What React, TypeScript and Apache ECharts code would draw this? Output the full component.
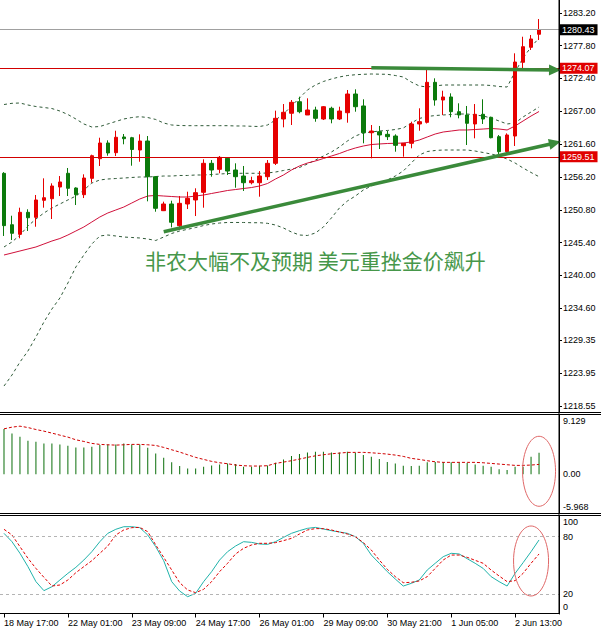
import React, { useEffect, useRef } from 'react';
import * as echarts from 'echarts';

// ---- tick labels ----
const xLabels = ['18 May 17:00', '22 May 01:00', '23 May 09:00', '24 May 17:00', '26 May 01:00', '29 May 09:00', '30 May 21:00', '1 Jun 05:00', '2 Jun 13:00'];
const yTicks = [1283.2, 1277.8, 1272.4, 1267.0, 1261.6, 1256.2, 1250.8, 1245.4, 1240.0, 1234.6, 1229.35, 1223.95, 1218.55];
const macdTicks = [9.129, 0, -5.968];
const stochTicks = [100, 80, 20, 0];
const stochLevels = [80, 20];

// ---- candles (H4) ----
const open = [1256.8, 1248.35, 1246.77, 1250.39, 1249.57, 1252.37, 1252.63, 1254.55, 1256.81, 1254.39,
  1253.29, 1255.98, 1259.21, 1261.79, 1260.2, 1262.78, 1262.66, 1260.64, 1262.12, 1256.25,
  1250.66, 1251.76, 1248.19, 1251.76, 1252.42, 1253.68, 1258.45, 1257.46, 1259.27, 1257.35,
  1256.36, 1255.26, 1255.26, 1256.25, 1258.45, 1265.74, 1266.68, 1268.58, 1266.4, 1267.22,
  1265.74, 1267.5, 1265.74, 1266.77, 1269.85, 1267.88, 1263.48, 1263.65, 1263.22, 1262.94,
  1261.35, 1261.74, 1264.92, 1265.19, 1271.77, 1268.86, 1269.36, 1266.94, 1266.4, 1264.92,
  1266.51, 1266.02, 1262.83, 1260.36, 1262.94, 1275.06, 1277.53, 1279.67];
const close = [1248.2, 1246.94, 1250.39, 1249.5, 1252.42, 1252.79, 1254.72, 1255.38, 1254.34, 1253.29,
  1256.03, 1259.7, 1261.79, 1260.15, 1262.73, 1262.5, 1260.72, 1262.12, 1256.25, 1251.05,
  1251.76, 1248.75, 1251.87, 1252.69, 1253.62, 1258.45, 1257.35, 1259.43, 1257.18, 1256.25,
  1255.26, 1255.6, 1256.36, 1258.45, 1265.85, 1266.84, 1268.48, 1266.94, 1267.22, 1265.85,
  1267.76, 1265.74, 1267.05, 1269.85, 1267.76, 1263.48, 1263.76, 1263.11, 1262.83, 1261.41,
  1261.74, 1264.92, 1265.3, 1271.77, 1268.86, 1269.36, 1266.94, 1266.4, 1265.03, 1266.51,
  1265.74, 1262.66, 1260.36, 1263.11, 1275.11, 1277.63, 1278.9, 1280.43];
const low = [1246.5, 1245.84, 1246.12, 1247.32, 1248.02, 1251.15, 1249.29, 1253.07, 1253.07, 1251.59,
  1252.74, 1255.26, 1258.01, 1259.7, 1259.65, 1261.58, 1258.06, 1258.71, 1252.2, 1250.49,
  1250.6, 1247.92, 1247.48, 1250.93, 1249.78, 1251.15, 1256.25, 1256.81, 1256.53, 1254.44,
  1253.9, 1254.99, 1252.96, 1255.7, 1258.17, 1264.37, 1264.75, 1266.68, 1266.4, 1265.29,
  1265.57, 1265.03, 1265.57, 1265.13, 1266.94, 1261.74, 1259.27, 1260.8, 1262.28, 1260.36,
  1259.54, 1260.92, 1263.81, 1265.0, 1267.93, 1266.4, 1266.02, 1265.85, 1261.46, 1262.56,
  1264.92, 1262.56, 1259.54, 1260.1, 1261.3, 1274.08, 1277.09, 1278.73];
const high = [1257.0, 1249.83, 1251.15, 1250.89, 1253.24, 1255.98, 1255.16, 1256.36, 1257.68, 1254.5,
  1256.64, 1259.87, 1262.66, 1262.23, 1263.81, 1263.27, 1262.8, 1263.22, 1262.94, 1256.36,
  1252.14, 1252.3, 1253.07, 1253.78, 1254.34, 1259.11, 1258.99, 1259.65, 1259.37, 1258.45,
  1258.01, 1256.25, 1257.18, 1258.99, 1267.11, 1268.2, 1268.86, 1269.41, 1269.14, 1267.76,
  1267.87, 1267.76, 1267.76, 1270.51, 1270.62, 1268.98, 1264.75, 1264.59, 1263.76, 1263.22,
  1261.8, 1265.3, 1267.5, 1274.08, 1272.43, 1270.39, 1269.96, 1268.32, 1267.88, 1268.2,
  1268.98, 1266.12, 1263.1, 1263.38, 1276.54, 1279.27, 1279.55, 1282.18];

// ---- Bollinger bands and moving average ----
const bbUpper = [1268.12, 1268.32, 1268.37, 1268.04, 1267.79, 1267.63, 1267.46, 1267.05, 1266.48, 1265.74,
  1264.92, 1264.42, 1264.5, 1264.92, 1265.33, 1265.74, 1265.98, 1266.12, 1265.98, 1265.66,
  1265.08, 1264.75, 1264.67, 1264.64, 1264.64, 1264.64, 1264.64, 1264.64, 1264.64, 1264.59,
  1264.59, 1264.54, 1264.5, 1264.75, 1265.57, 1266.56, 1267.88, 1269.19, 1270.51, 1271.33,
  1271.91, 1272.32, 1272.65, 1272.89, 1273.02, 1273.09, 1273.14, 1273.11, 1273.09, 1272.89,
  1272.65, 1271.82, 1271.17, 1271.0, 1271.17, 1271.33, 1271.33, 1271.33, 1271.33, 1271.33,
  1271.33, 1271.25, 1271.08, 1271.0, 1273.47, 1275.77, 1277.58, 1279.06];
const bbMid = [1244.69, 1245.51, 1246.66, 1248.14, 1249.29, 1250.28, 1251.1, 1251.76, 1252.42, 1253.07,
  1254.06, 1255.21, 1255.71, 1255.87, 1255.95, 1256.03, 1256.12, 1256.2, 1256.2, 1256.28,
  1256.36, 1256.36, 1256.45, 1256.45, 1256.53, 1256.53, 1256.61, 1256.69, 1256.77, 1256.81,
  1256.81, 1256.81, 1256.81, 1256.86, 1257.02, 1257.27, 1257.51, 1257.76, 1258.34, 1258.99,
  1259.65, 1260.31, 1261.13, 1262.12, 1262.94, 1263.44, 1263.6, 1263.76, 1263.85, 1264.01,
  1264.26, 1265.08, 1265.82, 1266.15, 1266.31, 1266.4, 1266.48, 1266.56, 1266.56, 1266.4,
  1266.23, 1265.9, 1265.41, 1264.92, 1265.08, 1266.07, 1266.89, 1267.71];
const bbLower = [1221.82, 1223.63, 1225.77, 1227.58, 1229.88, 1232.35, 1234.49, 1236.3, 1238.76, 1241.4,
  1243.37, 1245.18, 1246.5, 1246.66, 1246.5, 1246.33, 1246.25, 1246.17, 1246.0, 1245.76,
  1246.33, 1246.91, 1247.32, 1247.6, 1247.89, 1248.22, 1248.47, 1248.63, 1248.72, 1248.72,
  1248.72, 1248.68, 1248.68, 1248.58, 1248.3, 1247.81, 1247.15, 1246.66, 1246.58, 1246.99,
  1247.98, 1249.46, 1251.1, 1252.25, 1253.07, 1254.06, 1254.72, 1255.21, 1255.71, 1256.36,
  1257.19, 1258.5, 1259.82, 1260.39, 1260.56, 1260.64, 1260.64, 1260.64, 1260.64, 1260.47,
  1260.23, 1259.98, 1259.65, 1259.16, 1258.5, 1257.68, 1256.94, 1256.25];
const maRed = [1243.37, 1243.7, 1244.03, 1244.36, 1244.69, 1245.18, 1245.67, 1246.08, 1246.66, 1247.32,
  1247.98, 1248.8, 1249.62, 1250.28, 1250.77, 1251.26, 1251.92, 1252.58, 1253.07, 1253.16,
  1253.07, 1252.99, 1252.91, 1252.91, 1253.07, 1253.24, 1253.49, 1253.73, 1253.98, 1254.14,
  1254.31, 1254.47, 1254.72, 1255.13, 1255.87, 1256.53, 1257.35, 1258.01, 1258.5, 1258.83,
  1259.24, 1259.65, 1260.06, 1260.56, 1260.97, 1261.3, 1261.54, 1261.63, 1261.71, 1261.74,
  1261.79, 1261.96, 1262.28, 1262.78, 1263.27, 1263.6, 1263.76, 1263.93, 1263.93, 1264.01,
  1264.09, 1264.18, 1264.09, 1263.93, 1264.59, 1265.41, 1266.23, 1266.97];

// ---- MACD ----
const macdHist = [6.9, 6.23, 5.73, 5.12, 4.97, 4.72, 4.72, 4.57, 4.36, 4.11,
  4.11, 4.2, 4.46, 4.57, 4.57, 4.72, 4.57, 4.57, 4.05, 3.2,
  2.53, 1.83, 1.27, 0.91, 0.91, 1.17, 1.37, 1.52, 1.67, 1.57,
  1.17, 1.17, 1.32, 1.37, 1.77, 2.28, 2.79, 3.09, 3.35, 3.44,
  3.44, 3.35, 3.35, 3.44, 3.29, 2.94, 2.68, 2.33, 1.87, 1.67,
  1.32, 1.27, 1.32, 1.83, 1.87, 1.87, 1.83, 1.83, 1.72, 1.52,
  1.32, 1.17, 0.77, 0.67, 1.17, 1.17, 2.7, 3.31];
const macdSignal = [6.94, 7.2, 7.35, 7.14, 6.84, 6.59, 6.29, 5.98, 5.68, 5.27,
  5.02, 4.72, 4.57, 4.51, 4.46, 4.51, 4.57, 4.57, 4.51, 4.41,
  4.11, 3.75, 3.4, 2.99, 2.59, 2.28, 1.98, 1.77, 1.62, 1.42,
  1.32, 1.27, 1.27, 1.32, 1.67, 1.87, 2.08, 2.33, 2.59, 2.83,
  2.99, 3.14, 3.24, 3.35, 3.35, 3.35, 3.29, 3.2, 3.09, 2.94,
  2.74, 2.44, 2.28, 2.08, 1.92, 1.83, 1.83, 1.83, 1.83, 1.83,
  1.77, 1.67, 1.57, 1.47, 1.37, 1.37, 1.42, 1.52];

// ---- Stochastic ----
const stochK = [83.5, 74.8, 62.7, 48.8, 33.2, 23.8, 27.9, 34.9, 41.8, 48.1,
  55.7, 64.4, 74.8, 83.5, 87.7, 90.4, 90.4, 89.4, 81.8, 69.6,
  55.0, 33.2, 23.4, 17.5, 21.0, 33.2, 43.6, 55.7, 64.4, 70.3,
  74.8, 74.1, 72.4, 72.0, 74.8, 79.3, 83.5, 86.3, 88.7, 89.7,
  88.0, 86.3, 84.9, 83.5, 80.0, 73.1, 60.9, 52.3, 43.6, 35.9,
  28.6, 31.4, 34.9, 45.3, 52.3, 59.2, 62.7, 62.0, 57.1, 52.3,
  47.0, 38.4, 33.2, 28.6, 41.8, 52.9, 64.4, 76.6];
const stochD = [87.7, 81.8, 69.6, 57.5, 47.0, 37.7, 28.6, 29.7, 34.9, 42.5,
  48.8, 55.0, 62.7, 70.3, 81.8, 87.0, 89.4, 89.7, 85.2, 71.4,
  58.5, 45.3, 32.1, 24.5, 21.7, 25.2, 33.2, 43.6, 52.3, 62.0,
  67.9, 71.4, 73.1, 73.1, 73.8, 75.9, 78.3, 82.8, 87.0, 88.4,
  88.4, 87.0, 84.9, 82.8, 80.0, 73.8, 66.1, 55.7, 46.0, 38.4,
  32.1, 32.5, 33.9, 38.4, 47.0, 55.7, 60.9, 60.9, 58.5, 55.4,
  52.3, 45.3, 39.1, 33.2, 34.2, 41.8, 52.3, 62.0];

// ---- levels and annotations (data coordinates) ----
const lastPrice = 1280.43;
const resistance = 1274.07;
const support = 1259.51;
const upperArrow = [[45.6, 1274.18], [68.7, 1273.8]];
const lowerArrow = [[20.46, 1247.2], [69.2, 1261.8]];
const noteText = '非农大幅不及预期 美元重挫金价飙升';
const noteAt = [38.75, 1242.55];
const macdCircleAt = [66.95, 0.47];
const stochCircleAt = [66.34, 54.7];

const SLOTS = 70;
const categories = Array.from({ length: SLOTS }, (_, i) => 'b' + i);

const FONT = 'Liberation Sans, Arial, sans-serif';
const RED = '#e60000';
const GREEN = '#0b7a0b';
const BAND = '#2f5a38';
const TREND = '#3a8a3a';

const showIdx = (i: number) => i % 8 === 0 && i / 8 < xLabels.length;

export default function App() {
  const ref = useRef<HTMLDivElement>(null);
  useEffect(() => {
    document.body.style.margin = '0';
    const chart = echarts.init(ref.current!, null, { renderer: 'svg' });
    const candle = open.map((o, i) => [o, close[i], low[i], high[i]]);
    const lineSeries = (data: number[], color: string, type: any, z = 2, xi = 0) => ({
      type: 'line', xAxisIndex: xi, yAxisIndex: xi, data, symbol: 'none', silent: true, z,
      lineStyle: { color, width: 1, type },
    });
    // one horizontal level per markLine, styled at markLine level
    const levelMark = (v: number, color: string, bg: string) => ({
      silent: true, animation: false, symbol: 'none', z: 4,
      lineStyle: { color, width: 1, type: 'solid' },
      label: {
        show: true, position: 'end', formatter: v.toFixed(2), color: '#fff', backgroundColor: bg,
        padding: [1, 3, 0, 2], fontSize: 9, fontFamily: FONT, distance: 1, lineHeight: 10,
      },
      data: [{ yAxis: v }],
    });
    const arrowMark = (pts: number[][]) => ({
      silent: true, animation: false, z: 5,
      symbol: ['none', 'triangle'], symbolSize: [11, 12],
      lineStyle: { color: TREND, width: 3.5, type: 'solid' },
      itemStyle: { color: TREND },
      label: { show: false },
      data: [[{ coord: pts[0] }, { coord: pts[1] }]],
    });
    const option: any = {
      animation: false,
      grid: [
        { left: -1, top: 0, width: 560, height: 412 },
        { left: -1, top: 414.5, width: 560, height: 99 },
        { left: -1, top: 515.5, width: 560, height: 98.5 },
      ],
      xAxis: [
        { type: 'category', gridIndex: 0, data: categories, boundaryGap: true, show: false },
        { type: 'category', gridIndex: 1, data: categories, boundaryGap: true, show: false },
        {
          type: 'category', gridIndex: 2, data: categories, boundaryGap: true,
          axisLine: { show: true, lineStyle: { color: '#000', width: 1 } },
          axisTick: { show: true, length: 4, alignWithLabel: true, interval: (i: number) => showIdx(i), lineStyle: { color: '#000' } },
          axisLabel: {
            interval: (i: number) => showIdx(i),
            formatter: (_v: string, i: number) => xLabels[i / 8] ?? '',
            align: 'left', fontSize: 9, fontFamily: FONT, color: '#000', margin: 4,
          },
          splitLine: { show: false },
        },
      ],
      yAxis: [
        {
          type: 'value', gridIndex: 0, position: 'right', min: 1217.55, max: 1285.31,
          axisLine: { show: true, lineStyle: { color: '#000' } },
          axisTick: { show: true, length: 3, customValues: yTicks, lineStyle: { color: '#000' } },
          axisLabel: { customValues: yTicks, formatter: (v: number) => v.toFixed(2), fontSize: 9, fontFamily: FONT, color: '#000', margin: 4 },
          splitLine: { show: false },
        },
        {
          type: 'value', gridIndex: 1, position: 'right', min: -5.968, max: 9.129,
          axisLine: { show: true, lineStyle: { color: '#000' } },
          axisTick: { show: false },
          axisLabel: {
            customValues: macdTicks, fontSize: 9, fontFamily: FONT, color: '#000', margin: 4,
            formatter: (v: number) => (v > 9 ? '{t|9.129}' : v < -5 ? '{b|-5.968}' : '0.00'),
            rich: { t: { padding: [13, 0, 0, 0], fontSize: 9, fontFamily: FONT }, b: { padding: [0, 0, 14, 0], fontSize: 9, fontFamily: FONT } },
          },
          splitLine: { show: false },
        },
        {
          type: 'value', gridIndex: 2, position: 'right', min: -0.52, max: 102.08,
          axisLine: { show: true, lineStyle: { color: '#000' } },
          axisTick: { show: false },
          axisLabel: {
            customValues: stochTicks, fontSize: 9, fontFamily: FONT, color: '#000', margin: 4,
            formatter: (v: number) => (v === 100 ? '{t|100}' : v === 0 ? '{b|0}' : String(v)),
            rich: { t: { padding: [9, 0, 0, 0], fontSize: 9, fontFamily: FONT }, b: { padding: [0, 0, 13, 0], fontSize: 9, fontFamily: FONT } },
          },
          splitLine: { show: false },
        },
      ],
      series: [
        { ...lineSeries(bbUpper, BAND, [3, 3]), markLine: levelMark(lastPrice, '#a0a0a0', '#000000') },
        { ...lineSeries(bbMid, BAND, [3, 3]), markLine: levelMark(resistance, '#d20000', '#e00000') },
        { ...lineSeries(bbLower, BAND, [3, 3]), markLine: levelMark(support, '#d20000', '#e00000') },
        { ...lineSeries(maRed, '#d0103a', 'solid'), markLine: arrowMark(lowerArrow) },
        {
          type: 'candlestick', xAxisIndex: 0, yAxisIndex: 0, data: candle, barWidth: 4, z: 3, silent: true,
          itemStyle: { color: RED, color0: GREEN, borderColor: RED, borderColor0: GREEN, borderWidth: 1 },
          markLine: arrowMark(upperArrow),
        },
        {
          type: 'bar', xAxisIndex: 1, yAxisIndex: 1, data: macdHist, barWidth: 1, silent: true,
          itemStyle: { color: '#0a6e0a' },
        },
        lineSeries(macdSignal, '#d00000', [3, 2], 3, 1),
        {
          ...lineSeries(stochK, '#20b2aa', 'solid', 3, 2),
          markLine: {
            silent: true, animation: false, symbol: 'none', label: { show: false },
            lineStyle: { color: '#b4b4b4', width: 1, type: [3, 3] },
            data: stochLevels.map((v) => ({ yAxis: v })),
          },
        },
        lineSeries(stochD, '#e00000', [3, 2], 3, 2),
      ],
    };
    chart.setOption(option);

    const px = (g: number, pt: number[]) => chart.convertToPixel({ xAxisIndex: g, yAxisIndex: g }, pt) as number[];
    const note = px(0, noteAt);
    const mc = px(1, macdCircleAt);
    const sc = px(2, stochCircleAt);
    const hline = (y: number, x2 = 601) => ({ type: 'line', silent: true, z: 50, shape: { x1: 0, y1: y, x2, y2: y }, style: { stroke: '#000', lineWidth: 1 } });
    chart.setOption({
      graphic: [
        hline(412.5), hline(414.5), hline(513.5), hline(515.5),
        { type: 'line', silent: true, z: 50, shape: { x1: 559, y1: 0, x2: 559, y2: 614 }, style: { stroke: '#000', lineWidth: 1 } },
        {
          type: 'text', silent: true, z: 60, x: note[0], y: note[1],
          style: {
            text: noteText, fill: '#46974a', font: '21px "Noto Sans CJK SC"', fontSize: 21, fontFamily: 'Noto Sans CJK SC',
            align: 'center', verticalAlign: 'middle', textAlign: 'center', textVerticalAlign: 'middle',
          },
        },
        { type: 'ellipse', silent: true, z: 60, shape: { cx: mc[0], cy: mc[1], rx: 16.5, ry: 35 }, style: { fill: 'none', stroke: '#e06868', lineWidth: 1 } },
        { type: 'ellipse', silent: true, z: 60, shape: { cx: sc[0], cy: sc[1], rx: 17.5, ry: 35 }, style: { fill: 'none', stroke: '#e06868', lineWidth: 1 } },
      ],
    });
    return () => chart.dispose();
  }, []);
  return <div ref={ref} style={{ width: 601, height: 634 }} />;
}
